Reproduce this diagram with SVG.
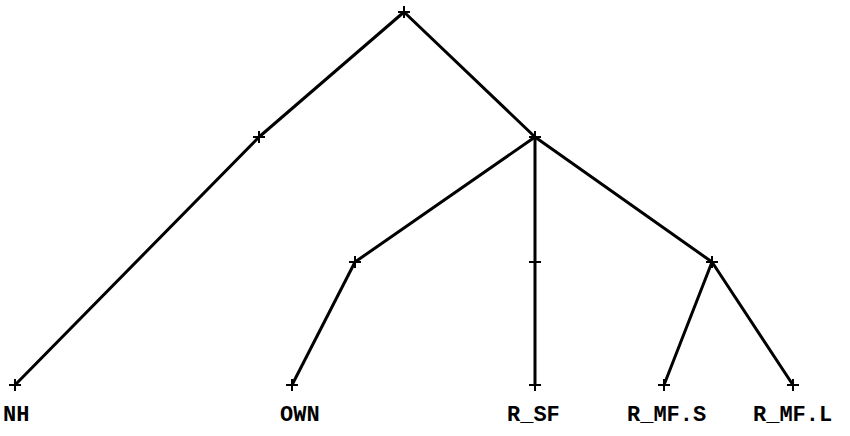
<svg xmlns="http://www.w3.org/2000/svg" width="850" height="436" viewBox="0 0 850 436">
<style>
.e{stroke:#000;stroke-width:3;stroke-linecap:round;fill:none}
.p{stroke:#000;stroke-width:2;fill:none}
.t{font-family:"Liberation Mono",monospace;font-weight:bold;font-size:22px;fill:#000}
</style>
<defs>
<path id="plus" class="p" d="M-6 0H6M0 -6V6"/>
</defs>
<rect width="850" height="436" fill="#fff"/>
<g id="connectors">
<line class="e" x1="404" y1="12" x2="259" y2="137"/>
<line class="e" x1="404" y1="12" x2="535" y2="137"/>
<line class="e" x1="259" y1="137" x2="15" y2="385"/>
<line class="e" x1="535" y1="137" x2="355" y2="262"/>
<line class="e" x1="535" y1="137" x2="535" y2="262"/>
<line class="e" x1="535" y1="137" x2="712" y2="262"/>
<line class="e" x1="355" y1="262" x2="292" y2="385"/>
<line class="e" x1="535" y1="262" x2="535" y2="385"/>
<line class="e" x1="712" y1="262" x2="664" y2="385"/>
<line class="e" x1="712" y1="262" x2="793" y2="385"/>
</g>
<g id="n-root"><use href="#plus" x="404" y="12"/></g>
<g id="n-a"><use href="#plus" x="259" y="137"/></g>
<g id="n-b"><use href="#plus" x="535" y="137"/></g>
<g id="n-c"><use href="#plus" x="355" y="262"/></g>
<g id="n-d"><use href="#plus" x="535" y="262"/></g>
<g id="n-e"><use href="#plus" x="712" y="262"/></g>
<g id="n-NH"><use href="#plus" x="15" y="385"/><text class="t" x="3" y="421">NH</text></g>
<g id="n-OWN"><use href="#plus" x="292" y="385"/><text class="t" x="280" y="421">OWN</text></g>
<g id="n-RSF"><use href="#plus" x="535" y="385"/><text class="t" x="507" y="421">R_SF</text></g>
<g id="n-RMFS"><use href="#plus" x="664" y="385"/><text class="t" x="627" y="421">R_MF.S</text></g>
<g id="n-RMFL"><use href="#plus" x="793" y="385"/><text class="t" x="753" y="421">R_MF.L</text></g>
</svg>
